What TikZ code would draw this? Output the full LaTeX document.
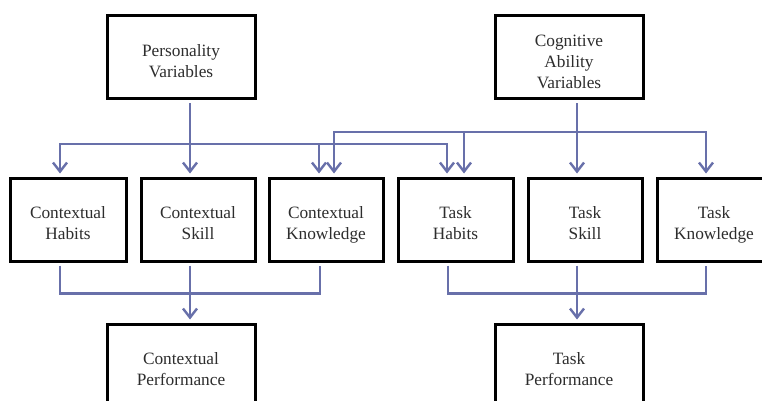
\documentclass[tikz,border=0pt]{standalone}
\usepackage{fontspec}
\setmainfont{Liberation Serif}
\usetikzlibrary{arrows.meta,calc}
\definecolor{linkblue}{RGB}{104,112,170}
\definecolor{inkgrey}{RGB}{45,45,45}
% label set a little below the box centre, keeping the box size unchanged
\newcommand\boxlabel[1]{\raisebox{-5.5pt}[\height][\depth]{\begin{tabular}{@{}c@{}}#1\end{tabular}}}
\tikzset{
  box/.style={draw=black, line width=3pt, fill=white,
    minimum height=83pt, text=inkgrey,
    font=\fontsize{17.3}{21}\selectfont},
  link/.style={draw=linkblue, line width=2.7pt},
  arrowlink/.style={link, -{Straight Barb[length=9pt,width=14pt,line width=2.4pt]}},
}
\begin{document}
\begin{tikzpicture}[x=1pt,y=-1pt]
\useasboundingbox (0,0) rectangle (762,401);
\clip (0,0) rectangle (762,401);
\fill[white] (0,0) rectangle (762,401);

% sources
\node[box, minimum width=148pt] (pv) at (181,57.5) {\boxlabel{Personality\\Variables}};
\node[box, minimum width=148pt] (cav) at (569,57.5) {\boxlabel{Cognitive\\Ability\\Variables}};

% middle row
\node[box, minimum width=116pt] (ch) at (68,219.5) {\boxlabel{Contextual\\Habits}};
\node[box, minimum width=114pt] (cs) at (198,219.5) {\boxlabel{Contextual\\Skill}};
\node[box, minimum width=114pt] (ck) at (326,219.5) {\boxlabel{Contextual\\Knowledge}};
\node[box, minimum width=115pt] (th) at (455.5,219.5) {\boxlabel{Task\\Habits}};
\node[box, minimum width=114pt] (ts) at (585,219.5) {\boxlabel{Task\\Skill}};
\node[box, minimum width=114pt] (tk) at (714,219.5) {\boxlabel{Task\\Knowledge}};

% outcomes
\node[box, minimum width=148pt] (cp) at (181,365.5) {\boxlabel{Contextual\\Performance}};
\node[box, minimum width=148pt] (tp) at (569,365.5) {\boxlabel{Task\\Performance}};

% bus junctions
\coordinate (pj) at (190,144);
\coordinate (cj) at (577,132);

% personality variables feed
\draw[arrowlink] ($(pv.south)+(9,3)$) -- ($(cs.north)+(-8,-3)$);
\draw[arrowlink] (pj) -| ($(ch.north)+(-8,-3)$);
\draw[arrowlink] (pj) -| ($(ck.north)+(-7,-3)$);
\draw[arrowlink] (pj) -| ($(th.north)+(-8.5,-3)$);

% cognitive ability feed
\draw[arrowlink] ($(cav.south)+(8,3)$) -- ($(ts.north)+(-8,-3)$);
\draw[arrowlink] (cj) -| ($(ck.north)+(8,-3)$);
\draw[arrowlink] (cj) -| ($(th.north)+(8.5,-3)$);
\draw[arrowlink] (cj) -| ($(tk.north)+(-8,-3)$);

% contextual performance merge
\draw[link] ($(ch.south)+(-8,3)$) -- ++(0,28) -| ($(ck.south)+(-6,3)$);
\draw[arrowlink] ($(cs.south)+(-8,3)$) -- ($(cp.north)+(9,-3)$);

% task performance merge
\draw[link] ($(th.south)+(-7.5,3)$) -- ++(0,28) -| ($(tk.south)+(-8,3)$);
\draw[arrowlink] ($(ts.south)+(-8,3)$) -- ($(tp.north)+(8,-3)$);
\end{tikzpicture}
\end{document}
